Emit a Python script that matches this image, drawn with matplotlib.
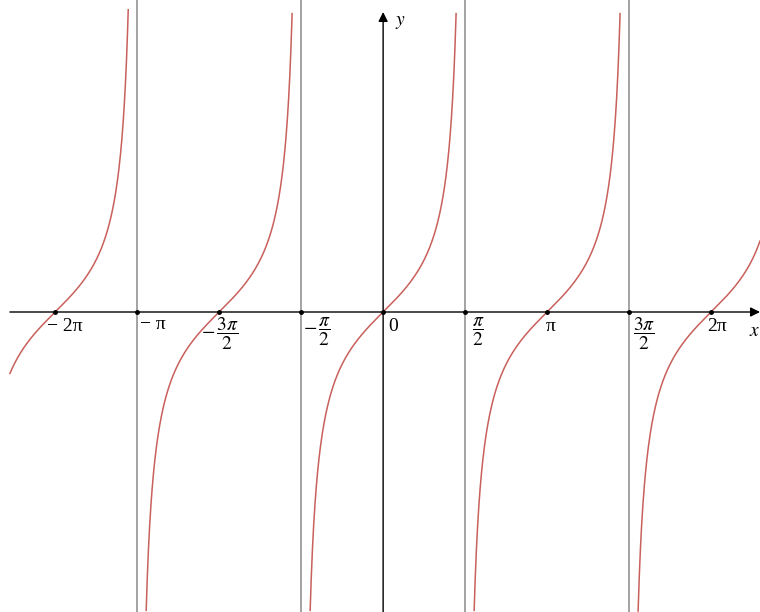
import numpy as np
import matplotlib.pyplot as plt

plt.rcParams['mathtext.fontset'] = 'stix'

# x positions of the marked points, in units of pi
tick_pos = [-2.0, -1.5, -1.0, -0.5, 0.0, 0.5, 1.0, 1.5, 2.0]
# labels exactly as printed in the picture
tick_labels = ['\u2212 2\u03c0', '\u2212 \u03c0', r'$-\,\dfrac{3\pi}{2}$', r'$-\,\dfrac{\pi}{2}$',
               '0', r'$\dfrac{\pi}{2}$', '\u03c0', r'$\dfrac{3\pi}{2}$', '2\u03c0']
# vertical asymptotes, in units of pi
asymptotes = [-1.5, -0.5, 0.5, 1.5]

x_min, x_max = -7.34, 7.22
y_min, y_max = -5.75, 5.98
y_clip = 5.8


def tan_branches(x_lo, x_hi):
    # one piece per period so the curve does not jump across an asymptote
    edges = [x_lo] + [a * np.pi for a in asymptotes] + [x_hi]
    out = []
    for a, b in zip(edges[:-1], edges[1:]):
        x = np.linspace(a + 1e-4, b - 1e-4, 800)
        y = np.tan(x)
        keep = np.abs(y) <= y_clip
        out.append((x[keep], y[keep]))
    return out


def main():
    fig = plt.figure(figsize=(7.6, 6.12), dpi=100)
    ax = fig.add_axes([0, 0, 1, 1])
    ax.set_xlim(x_min, x_max)
    ax.set_ylim(y_min, y_max)
    ax.axis('off')

    for a in asymptotes:
        ax.axvline(a * np.pi, color='#8a8a8a', lw=1.1, zorder=1)

    for x, y in tan_branches(-7.15, x_max):
        ax.plot(x, y, color='#c8605c', lw=1.1, zorder=3)

    # axes with arrow heads
    ax.annotate('', xy=(x_max, 0), xytext=(-7.15, 0),
                arrowprops=dict(arrowstyle='-|>', color='black', lw=1.0,
                                mutation_scale=14, shrinkA=0, shrinkB=0), zorder=2)
    ax.annotate('', xy=(0, 5.75), xytext=(0, y_min),
                arrowprops=dict(arrowstyle='-|>', color='black', lw=1.0,
                                mutation_scale=14, shrinkA=0, shrinkB=0), zorder=2)

    xs = [p * np.pi for p in tick_pos]
    ax.plot(xs, np.zeros(len(xs)), 'o', color='black', ms=2.5, zorder=4)

    # label offsets (points) from each marked point
    offsets = [(-6, -4), (2, -3), (-13, -3), (1, -3), (4, -4),
               (5, -3), (-1, -4), (3, -3), (-3, -4)]
    for x, lab, (dx, dy) in zip(xs, tick_labels, offsets):
        if lab.startswith('$'):
            ax.annotate(lab, (x, 0), xytext=(dx, dy), textcoords='offset points',
                        ha='left', va='top', fontsize=14)
        else:
            ax.annotate(lab, (x, 0), xytext=(dx, dy), textcoords='offset points',
                        ha='left', va='top', fontsize=14, family='Liberation Serif')

    ax.text(7.0, -0.17, '$x$', fontsize=14, ha='left', va='top')
    ax.text(0.22, 5.75, '$y$', fontsize=14, ha='left', va='top')

    fig.savefig('out.png', dpi=100, facecolor='white')
    plt.close(fig)


if __name__ == "__main__":
    main()
